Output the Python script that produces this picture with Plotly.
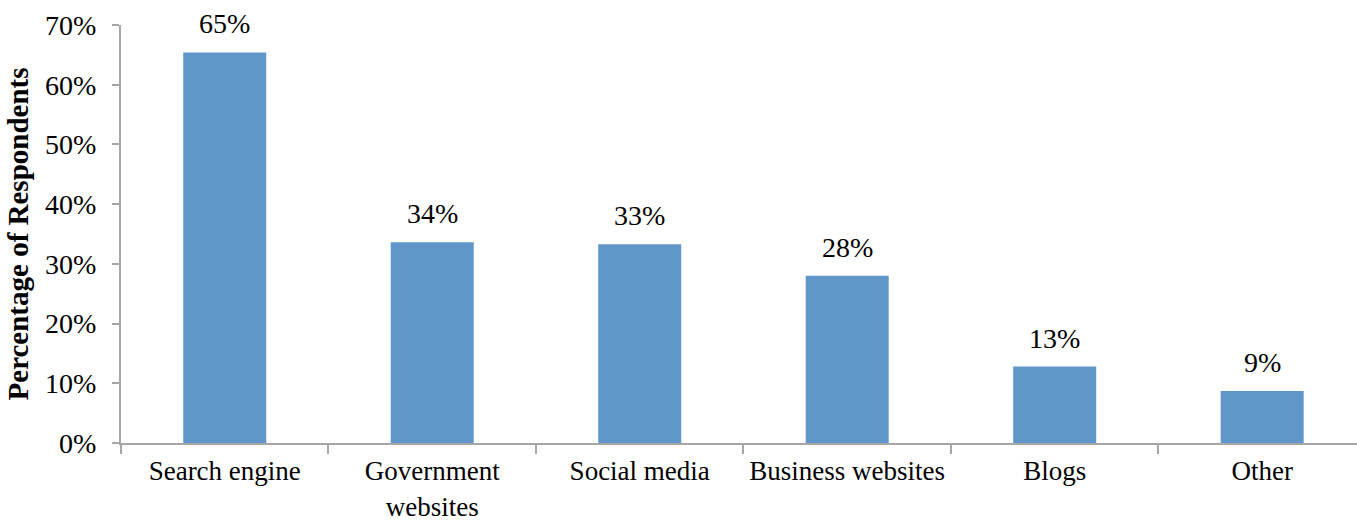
import plotly.graph_objects as go

categories = ["Search engine", "Government<br>websites", "Social media",
              "Business websites", "Blogs", "Other"]
shares = [65.4, 33.6, 33.3, 28.0, 12.8, 8.7]
y_ticks = [0, 10, 20, 30, 40, 50, 60, 70]
y_tick_text = [f"{v}%" for v in y_ticks]

FONT = "Liberation Serif"
BAR = "#6096C9"
AXIS = "#A6A6A6"

fig = go.Figure(
    go.Bar(
        x=categories,
        y=shares,
        marker=dict(color=BAR, line=dict(width=0)),
        width=0.4,
        hoverinfo="skip",
    )
)

# value labels above each bar, taken from the bar values
for cat, val in zip(categories, shares):
    fig.add_annotation(
        x=cat, y=val, text=f"{round(val)}%", showarrow=False,
        yanchor="bottom", yshift=11,
        font=dict(family=FONT, size=28, color="#000000"),
    )

fig.update_layout(
    width=1357, height=521,
    margin=dict(l=121, r=0, t=25, b=78),
    paper_bgcolor="white", plot_bgcolor="white",
    showlegend=False,
    font=dict(family=FONT, size=28, color="#000000"),
)

fig.update_xaxes(
    type="category",
    range=[-0.5, 5.457],
    showline=True, linecolor=AXIS, linewidth=2,
    ticks="outside", tickson="boundaries", ticklen=9, tickcolor=AXIS, tickwidth=2,
    showgrid=False, zeroline=False,
    tickfont=dict(family=FONT, size=27),
    tickangle=0, automargin=False,
    ticklabelstandoff=3,
)

fig.update_yaxes(
    range=[0, 70],
    tickvals=y_ticks, ticktext=y_tick_text,
    showline=True, linecolor=AXIS, linewidth=2,
    ticks="outside", ticklen=7, tickcolor=AXIS, tickwidth=2,
    showgrid=False, zeroline=False,
    tickfont=dict(family=FONT, size=28),
    automargin=False,
    ticklabelstandoff=10,
    title=dict(text="<b>Percentage of Respondents</b>",
               font=dict(family=FONT, size=29), standoff=8),
)

fig.write_html("out.html")
